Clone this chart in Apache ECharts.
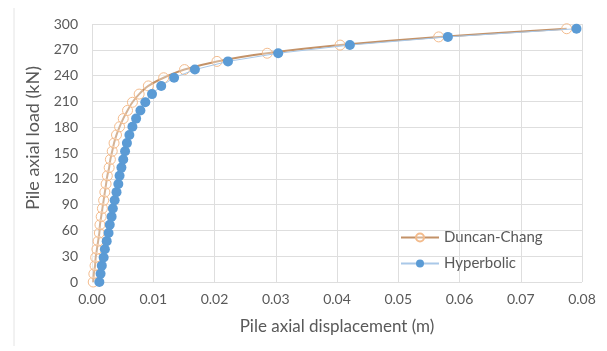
<!DOCTYPE html>
<html lang="en">
<head>
    <meta charset="UTF-8">
    <title>Pile load-displacement</title>
    <script src="https://cdn.jsdelivr.net/npm/echarts@6/dist/echarts.min.js"></script>
</head>
<body style="margin:0;background:#fff;">
    <div id="main" style="width:607px;height:351px;"></div>
    <script>
        // loads (kN)
        let loads = [0, 9.5, 19, 28.5, 38, 47.5, 57, 66.5, 76, 85.5, 95, 104.5, 114, 123.5, 133, 142.5,
            152, 161.5, 171, 180.5, 190, 199.5, 209, 218.5, 228, 237.5, 247, 256.5, 266, 275.5, 285, 294.5];
        // displacement (m)
        let duncanDisp = [0.0002, 0.0003, 0.0005, 0.0006, 0.0008, 0.0010, 0.0012, 0.0013, 0.0015, 0.0017,
            0.0019, 0.0021, 0.0023, 0.0025, 0.0028, 0.0030, 0.0033, 0.0036, 0.0040, 0.0045, 0.0051,
            0.0058, 0.0066, 0.0077, 0.0092, 0.0117, 0.0151, 0.0204, 0.0286, 0.0405, 0.0566, 0.0775];
        let hyperDisp = [0.0012, 0.0014, 0.0016, 0.0019, 0.0021, 0.0024, 0.0027, 0.0029, 0.0032, 0.0034,
            0.0037, 0.0040, 0.0043, 0.0045, 0.0048, 0.0051, 0.0054, 0.0057, 0.0061, 0.0066, 0.0072,
            0.0079, 0.0087, 0.0098, 0.0113, 0.0134, 0.0168, 0.0222, 0.0304, 0.0421, 0.0581, 0.0791];

        let font = 'Lato, "Open Sans", sans-serif';
        let txt = '#595959';

        function pairs(xs) {
            return xs.map(function (x, i) { return [x, loads[i]]; });
        }

        let chart = echarts.init(document.getElementById('main'));
        chart.setOption({
            animation: false,
            textStyle: { fontFamily: font },
            grid: { left: 92, right: 25, top: 24, bottom: 69 },
            graphic: [{
                type: 'line',
                shape: { x1: 14, y1: 8, x2: 14, y2: 346 },
                style: { stroke: '#e4e4e4', lineWidth: 1 }
            }],
            legend: {
                orient: 'vertical',
                left: 395,
                top: 225,
                itemWidth: 38,
                itemHeight: 10,
                itemGap: 11,
                textStyle: { color: txt, fontSize: 15, fontFamily: font },
                data: ['Duncan-Chang', 'Hyperbolic']
            },
            xAxis: {
                type: 'value',
                min: 0,
                max: 0.08,
                interval: 0.01,
                name: 'Pile axial displacement (m)',
                nameLocation: 'middle',
                nameGap: 36,
                nameTextStyle: { color: txt, fontSize: 17 },
                axisLine: { show: false },
                axisTick: { show: false },
                axisLabel: {
                    color: txt, fontSize: 14, margin: 10,
                    formatter: function (v) { return v.toFixed(2); }
                },
                splitLine: { lineStyle: { color: '#dedede' } }
            },
            yAxis: {
                type: 'value',
                min: 0,
                max: 300,
                interval: 30,
                name: 'Pile axial load (kN)',
                nameLocation: 'middle',
                nameGap: 50,
                nameTextStyle: { color: txt, fontSize: 18, padding: [0, 0, 0, 30] },
                axisLine: { show: false },
                axisTick: { show: false },
                axisLabel: { color: txt, fontSize: 14, margin: 14 },
                splitLine: { lineStyle: { color: '#dedede' } }
            },
            series: [{
                name: 'Duncan-Chang',
                type: 'line',
                data: pairs(duncanDisp),
                smooth: 0.3,
                symbol: 'circle',
                symbolSize: 10,
                lineStyle: { color: '#c39268', width: 2 },
                itemStyle: { color: 'rgba(255,255,255,0.3)', borderColor: '#f3bb8c', borderWidth: 1 },
                z: 2
            }, {
                name: 'Hyperbolic',
                type: 'line',
                data: pairs(hyperDisp),
                symbol: 'circle',
                symbolSize: 10,
                lineStyle: { color: '#a9c8e8', width: 1 },
                itemStyle: { color: '#5b9bd5' },
                z: 3
            }]
        });
    </script>
</body>
</html>
